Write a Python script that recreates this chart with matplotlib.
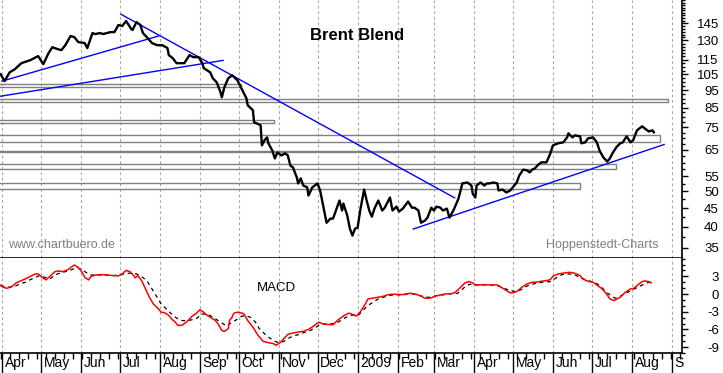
import matplotlib
matplotlib.use("Agg")
import matplotlib.pyplot as plt
import matplotlib.dates as mdates
import matplotlib.transforms as mtransforms
from matplotlib.patches import Rectangle
import numpy as np
import pandas as pd

plt.rcParams['font.family'] = ['Liberation Sans', 'DejaVu Sans']

START = pd.Timestamp("2008-04-01")

# Brent Blend, USD/bbl -- x given as days after 2008-04-01
price_days = [-1, 2, 6, 10, 15, 22, 28, 31, 32, 36, 39, 43, 46, 49, 53, 56, 59, 64, 66, 70,
              72, 76, 78, 84, 87, 90, 93, 96, 100, 101, 104, 107, 109, 112, 116, 120, 124, 128, 129, 132,
              135, 141, 145, 148, 152, 155, 156, 161, 163, 166, 169, 170, 172, 175, 178, 182, 184, 186, 189, 190,
              194, 195, 197, 200, 201, 203, 205, 206, 209, 211, 213, 216, 219, 221, 223, 225, 228, 229, 231, 233,
              236, 237, 240, 244, 246, 248, 251, 254, 256, 259, 261, 263, 264, 267, 269, 271, 273, 275, 277, 280,
              282, 284, 286, 288, 291, 294, 296, 300, 302, 305, 307, 310, 314, 317, 319, 322, 324, 327, 329, 332,
              334, 336, 339, 341, 344, 346, 349, 350, 353, 356, 360, 363, 364, 366, 367, 370, 373, 375, 377, 380,
              383, 384, 387, 390, 393, 395, 398, 400, 403, 406, 408, 410, 412, 414, 417, 421, 424, 426, 430, 434,
              437, 438, 441, 443, 447, 448, 451, 453, 457, 460, 462, 465, 468, 470, 472, 475, 478, 480, 483, 486,
              488, 491, 495, 497, 500, 503, 504]
price = [105.0, 100.5, 106.3, 108.4, 112.6, 114.8, 117.8, 113.4, 111.9, 120.0, 124.6, 123.1, 122.3, 126.2, 133.7, 132.8, 128.7, 127.9, 123.9, 136.3,
         135.4, 136.3, 135.4, 137.1, 137.1, 143.4, 142.5, 147.1, 139.8, 138.9, 146.1, 143.4, 136.3, 132.8, 127.9, 126.2, 126.2, 123.9, 118.5, 116.3,
         112.6, 112.6, 118.5, 117.0, 117.0, 112.6, 109.1, 106.3, 102.4, 99.8, 93.7, 90.7, 96.7, 102.4, 104.3, 101.1, 97.9, 94.9, 90.2, 86.3,
         83.6, 77.4, 76.9, 76.0, 66.9, 69.1, 70.4, 67.8, 64.8, 61.6, 64.0, 62.8, 63.6, 62.8, 58.9, 58.2, 54.6, 52.6, 54.3, 51.9,
         51.3, 48.7, 51.3, 52.6, 50.3, 46.3, 41.0, 42.1, 42.1, 45.1, 47.2, 44.3, 46.3, 42.9, 39.5, 37.8, 39.5, 39.75, 44.3, 50.6,
         47.2, 44.3, 42.6, 44.85, 47.2, 44.3, 45.1, 48.1, 44.3, 45.4, 44.0, 44.85, 46.9, 45.1, 45.1, 44.3, 41.0, 41.55, 42.35, 45.1,
         44.3, 45.4, 45.1, 44.3, 44.85, 42.35, 44.3, 45.1, 47.8, 52.6, 52.9, 51.9, 49.3, 48.1, 51.9, 52.9, 51.9, 52.6, 52.6, 52.9,
         52.6, 50.3, 50.6, 49.65, 50.3, 51.3, 52.9, 55.3, 57.4, 57.1, 56.4, 57.4, 57.8, 58.9, 60.1, 60.1, 63.6, 66.9, 67.8, 68.2,
         70.4, 72.2, 70.4, 71.3, 70.85, 67.8, 68.2, 69.9, 70.4, 68.2, 64.8, 62.0, 60.4, 61.6, 63.6, 66.1, 67.8, 68.2, 70.85, 68.2,
         69.1, 73.6, 75.5, 74.5, 73.1, 73.6, 72.7]

# MACD line and signal line
macd_days = [-1, 1, 4, 8, 11, 15, 19, 23, 26, 28, 31, 34, 37, 41, 44, 47, 51, 56, 59, 62,
             64, 67, 69, 73, 77, 81, 86, 90, 93, 96, 99, 102, 103, 105, 108, 111, 114, 117, 121, 123,
             126, 129, 131, 134, 136, 139, 141, 144, 147, 150, 153, 156, 158, 161, 165, 167, 170, 172, 175, 176,
             178, 179, 180, 183, 187, 190, 194, 198, 202, 206, 210, 212, 215, 218, 221, 225, 229, 233, 237, 241,
             245, 248, 252, 256, 260, 264, 268, 270, 274, 277, 281, 283, 287, 291, 295, 299, 303, 308, 312, 315,
             319, 323, 327, 331, 335, 339, 343, 346, 350, 354, 358, 361, 364, 366, 370, 373, 377, 383, 386, 390,
             393, 395, 398, 402, 406, 410, 413, 417, 421, 424, 426, 430, 435, 439, 443, 447, 449, 453, 457, 460,
             464, 468, 470, 473, 475, 478, 482, 486, 488, 491, 495, 497, 500, 502]
macd = [1.55, 1.15, 0.98, 1.32, 1.89, 2.28, 2.67, 3.13, 3.41, 3.41, 2.84, 2.40, 3.01, 3.80, 3.92, 3.80, 4.14, 4.93, 4.53, 3.68,
        2.84, 2.40, 3.01, 3.24, 3.29, 3.24, 3.13, 3.07, 3.41, 4.02, 3.80, 3.13, 2.74, 3.13, 2.28, 0.88, -0.54, -1.66, -2.50, -3.07,
        -3.18, -3.63, -4.19, -4.76, -5.32, -5.32, -5.03, -4.48, -3.75, -3.34, -2.67, -3.07, -3.51, -3.92, -4.48, -5.03, -6.17, -6.33, -5.88, -4.48,
        -3.92, -3.35, -3.18, -3.07, -3.35, -4.48, -5.60, -7.01, -8.02, -8.25, -8.42, -8.70, -8.25, -7.57, -6.84, -6.61, -6.45, -6.33, -6.00, -5.43,
        -4.76, -5.04, -5.15, -5.21, -4.36, -3.74, -3.24, -3.35, -3.74, -3.07, -1.66, -0.82, -0.70, -0.54, -0.37, -0.08, -0.03, -0.08, -0.08, 0.14,
        0.03, -0.25, -0.70, -0.70, -0.37, -0.14, 0.03, 0.03, 0.20, 1.00, 1.89, 2.11, 1.89, 1.55, 1.55, 1.60, 1.55, 1.55, 1.15, 0.59,
        0.20, 0.20, 0.42, 1.15, 1.72, 2.00, 2.00, 2.17, 2.28, 2.45, 3.01, 3.41, 3.58, 3.69, 3.52, 3.13, 2.56, 2.17, 2.00, 1.55,
        0.88, -0.14, -0.82, -1.10, -0.93, -0.54, 0.31, 0.88, 0.88, 1.44, 2.11, 2.22, 2.11, 1.89]

signal_days = [-1, 2, 6, 10, 14, 18, 22, 26, 29, 33, 37, 41, 45, 50, 54, 58, 63, 68, 73, 78,
               86, 91, 95, 100, 104, 107, 112, 116, 120, 123, 127, 131, 135, 139, 143, 147, 151, 154, 160, 163,
               167, 171, 174, 176, 181, 185, 188, 192, 196, 199, 203, 207, 211, 214, 218, 221, 225, 229, 233, 237,
               241, 245, 248, 252, 256, 260, 264, 268, 272, 276, 279, 283, 287, 291, 295, 299, 303, 308, 313, 317,
               321, 325, 328, 332, 336, 341, 346, 352, 355, 359, 363, 367, 372, 377, 383, 388, 393, 397, 401, 404,
               408, 413, 418, 424, 428, 431, 435, 439, 443, 447, 451, 455, 459, 463, 466, 470, 474, 477, 481, 485,
               489, 493, 497, 500, 502]
signal = [1.30, 1.32, 1.15, 1.32, 1.72, 2.00, 2.45, 2.84, 3.13, 2.84, 2.56, 3.24, 3.58, 3.86, 4.14, 4.53, 3.97, 3.24, 3.24, 3.24,
          3.13, 3.24, 3.41, 3.58, 3.41, 3.13, 2.28, 0.88, -0.54, -1.66, -2.50, -3.35, -4.08, -4.48, -4.53, -4.36, -4.08, -3.35, -3.51, -3.92,
          -4.48, -5.04, -5.43, -5.04, -4.40, -3.80, -3.63, -3.92, -4.76, -5.88, -6.73, -7.46, -8.02, -8.25, -8.02, -7.57, -7.12, -6.90, -6.56, -6.33,
          -5.88, -5.32, -5.15, -5.04, -5.04, -4.76, -4.19, -3.74, -3.52, -3.52, -2.79, -1.94, -1.38, -0.82, -0.54, -0.25, -0.14, -0.14, 0.03, 0.03,
          -0.14, -0.37, -0.54, -0.54, -0.25, -0.14, 0.03, 0.10, 0.59, 1.44, 1.72, 1.55, 1.55, 1.55, 1.44, 0.98, 0.59, 0.42, 0.70, 1.15,
          1.55, 1.83, 2.00, 2.11, 2.67, 3.13, 3.41, 3.41, 3.24, 2.84, 2.45, 2.17, 1.89, 1.32, 0.59, -0.14, -0.70, -0.54, 0.03, 0.42,
          0.88, 1.32, 1.72, 2.00, 2.00]

# support / resistance zones (price band, last day drawn)
zone_low = [96.7, 87.8, 77.3, 68.4, 64.3, 57.7, 50.8]
zone_high = [98.6, 90.0, 78.4, 71.3, 64.6, 59.6, 52.8]
zone_end = [185, 515, 210, 509, 462, 475, 447]

# trend lines: start day, start price, end day, end price
trend_d0 = [0, -1.5, 92, 318]
trend_p0 = [100.5, 91.3, 153.5, 39.4]
trend_d1 = [121, 171, 350, 512]
trend_p1 = [133.7, 114.6, 48.0, 67.3]

price_ticks = [35, 40, 45, 50, 55, 65, 75, 85, 95, 105, 115, 130, 145]
macd_ticks = [3, 0, -3, -6, -9]
month_labels = ["Apr", "May", "Jun", "Jul", "Aug", "Sep", "Oct", "Nov", "Dec", "2009",
                "Feb", "Mar", "Apr", "May", "Jun", "Jul", "Aug", "S"]


def to_dates(days):
    return START + pd.to_timedelta(np.asarray(days, dtype=float), unit="D")


fig = plt.figure(figsize=(7.23, 3.73), dpi=100)
W, H = 723, 373
ax1 = fig.add_axes([0, (H - 257.5) / H, 682 / W, 257.5 / H])
ax2 = fig.add_axes([0, (H - 353) / H, 682 / W, 95.5 / H], sharex=ax1)

xmin = to_dates([-1.5])[0]
xmax = to_dates([525.8])[0]
month_starts = pd.date_range("2008-04-01", "2009-09-01", freq="MS")

# ---- price panel
ax1.set_yscale("log")
ax1.set_ylim(32.9, 168)
ax1.set_xlim(xmin, xmax)

for lo, hi, end in zip(zone_low, zone_high, zone_end):
    x0 = mdates.date2num(to_dates([-5])[0])
    x1 = mdates.date2num(to_dates([end])[0])
    ax1.add_patch(Rectangle((x0, lo), x1 - x0, hi - lo, facecolor="none",
                            edgecolor="#808080", lw=1.0, zorder=2))

for d0, p0, d1, p1 in zip(trend_d0, trend_p0, trend_d1, trend_p1):
    ax1.plot(to_dates([d0, d1]), [p0, p1], color="#0000ff", lw=1.0, zorder=3)

ax1.plot(to_dates(price_days), price, color="black", lw=1.7, zorder=4)

ax1.text(0.523, 0.864, "Brent Blend", transform=ax1.transAxes, ha="center", va="center",
         fontsize=12, fontweight="bold")
ax1.text(0.012, 0.048, "www.chartbuero.de", transform=ax1.transAxes, ha="left", va="center",
         fontsize=9, color="#808080")
ax1.text(0.966, 0.048, "Hoppenstedt-Charts", transform=ax1.transAxes, ha="right", va="center",
         fontsize=9, color="#808080")

# ---- MACD panel
ax2.plot(to_dates(signal_days), signal, color="black", lw=0.9, ls=(0, (3, 3)), zorder=3)
ax2.plot(to_dates(macd_days), macd, color="#ff0000", lw=1.1, zorder=4)
ax2.set_ylim(-10.0, 6.2)
ax2.text(0.406, 0.68, "MACD", transform=ax2.transAxes, ha="center", va="center", fontsize=9.5)

for ax in (ax1, ax2):
    for m in month_starts:
        ax.axvline(m, color="#a8a8a8", lw=0.8, ls=(0, (2.5, 2.5)), zorder=1)
    ax.spines["left"].set_visible(False)
    ax.spines["top"].set_visible(False)
    ax.spines["right"].set_linewidth(1.2)
    ax.spines["bottom"].set_linewidth(1.2)
    ax.yaxis.tick_right()
    ax.set_facecolor("white")

# right axis ticks, price panel
ax1.yaxis.set_major_locator(plt.FixedLocator(price_ticks))
ax1.yaxis.set_major_formatter(plt.FixedFormatter([str(t) for t in price_ticks]))
ax1.yaxis.set_minor_locator(plt.FixedLocator(np.arange(32.5, 168, 2.5)))
ax1.yaxis.set_minor_formatter(plt.NullFormatter())
ax1.tick_params(axis="y", which="major", length=4.5, width=1, labelsize=9.5, pad=22)
ax1.tick_params(axis="y", which="minor", length=2.5, width=1)
for lbl in ax1.get_yticklabels():
    lbl.set_horizontalalignment("right")
ax1.tick_params(axis="x", which="both", length=0, labelbottom=False)

# right axis ticks, MACD panel
ax2.yaxis.set_major_locator(plt.FixedLocator(macd_ticks))
ax2.yaxis.set_major_formatter(plt.FixedFormatter([str(t) for t in macd_ticks]))
ax2.yaxis.set_minor_locator(plt.FixedLocator(np.arange(-10, 7, 1)))
ax2.tick_params(axis="y", which="major", length=4.5, width=1, labelsize=9.5, pad=22)
ax2.tick_params(axis="y", which="minor", length=2.5, width=1)
for lbl in ax2.get_yticklabels():
    lbl.set_horizontalalignment("right")

# bottom month axis
ax2.xaxis.set_major_locator(plt.FixedLocator(mdates.date2num(month_starts)))
ax2.xaxis.set_minor_locator(mdates.WeekdayLocator(byweekday=mdates.MO))
ax2.tick_params(axis="x", which="major", length=14.5, width=1, labelbottom=False)
ax2.tick_params(axis="x", which="minor", length=4.5, width=1)
ax2.set_xlim(xmin, xmax)

off = mtransforms.ScaledTranslation(2 / 72, -2.5 / 72, fig.dpi_scale_trans)
trans = mtransforms.blended_transform_factory(ax2.transData, ax2.transAxes) + off
for m, lbl in zip(month_starts, month_labels):
    ax2.text(m, 0, lbl, transform=trans, ha="left", va="top", fontsize=10, clip_on=False)

fig.savefig("out.png", dpi=100, facecolor="white")
